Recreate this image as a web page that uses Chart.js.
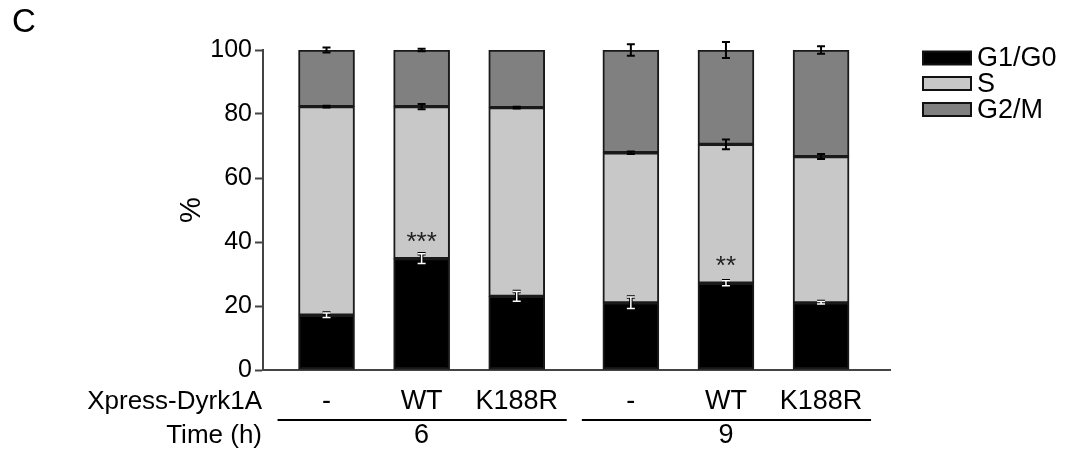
<!DOCTYPE html>
<html>
<head>
<meta charset="utf-8">
<script src="https://cdn.jsdelivr.net/npm/chart.js@4"></script>
<style>
  html, body { margin: 0; padding: 0; background: #fff; }
  #wrap { width: 1076px; height: 470px; position: relative; }
</style>
</head>
<body>
<div id="wrap"><canvas id="cycle-chart" width="1076" height="470"></canvas></div>
<script>
// --- Data ---
const constructs = ['-', 'WT', 'K188R', '-', 'WT', 'K188R'];
const timeGroups = ['6', '9'];
const phaseNames = ['G1/G0', 'S', 'G2/M'];

const g1Values = [17.1, 34.8, 23.0, 21.0, 27.1, 21.0];
const sValues  = [65.2, 47.5, 59.0, 46.9, 43.4, 45.7];
const g2Values = [17.7, 17.7, 18.0, 32.1, 29.5, 33.3];

const g1Err = [0.7, 1.5, 1.5, 1.8, 0.8, 0.4];
const sErr  = [0.3, 0.8, 0.3, 0.4, 1.5, 0.8];
const g2Err = [0.8, 0.4, 0.0, 1.8, 2.5, 1.2];

const significance = ['', '***', '', '', '**', ''];

const yTicks = [0, 20, 40, 60, 80, 100];

// --- Layout helpers ---
const FONT = "'Liberation Sans', Arial, sans-serif";
const groupSize = 3;

// bar slot = group * (groupSize + 0.2) + index + 1  (small extra gap between time groups)
const barX = constructs.map((_, i) => Math.floor(i / groupSize) * (groupSize + 0.2) + (i % groupSize) + 1);

const toPoints = vals => vals.map((v, i) => ({ x: barX[i], y: v }));

const colors = ['#000000', '#c8c8c8', '#808080'];

// error bars + asterisks + bottom labels + legend
const annotate = {
    id: 'annotate',
    afterDatasetsDraw(chart) {
        const { ctx, scales: { x, y } } = chart;
        const cap = 4;
        ctx.save();
        ctx.lineCap = 'butt';
        const bar = (px, top, err, white) => {
            if (!err) return;
            const y1 = y.getPixelForValue(top + err);
            const y2 = y.getPixelForValue(top - err);
            const path = () => {
                ctx.beginPath();
                ctx.moveTo(px, y1); ctx.lineTo(px, y2);
                ctx.moveTo(px - cap, y1); ctx.lineTo(px + cap, y1);
                ctx.moveTo(px - cap, y2); ctx.lineTo(px + cap, y2);
                ctx.stroke();
            };
            if (white) {
                ctx.strokeStyle = '#000'; ctx.lineWidth = 3.5; path();
                ctx.strokeStyle = '#fff'; ctx.lineWidth = 1.5; path();
            } else {
                ctx.strokeStyle = '#000'; ctx.lineWidth = 2; path();
            }
        };
        barX.forEach((bx, i) => {
            const px = x.getPixelForValue(bx);
            bar(px, g1Values[i], g1Err[i], true);
            bar(px, g1Values[i] + sValues[i], sErr[i], false);
            bar(px, g1Values[i] + sValues[i] + g2Values[i], g2Err[i], false);
            if (significance[i]) {
                ctx.fillStyle = '#222';
                ctx.font = '26px ' + FONT;
                ctx.textAlign = 'center';
                ctx.textBaseline = 'alphabetic';
                ctx.fillText(significance[i], px, y.getPixelForValue(g1Values[i]) - 9);
            }
        });
        ctx.restore();
    },
    afterDraw(chart) {
        const { ctx, scales: { x, y } } = chart;
        ctx.save();
        ctx.fillStyle = '#000';
        ctx.textBaseline = 'alphabetic';

        // panel letter
        ctx.font = '33px ' + FONT;
        ctx.textAlign = 'left';
        ctx.fillText('C', 12, 32);

        // row labels
        ctx.font = '26px ' + FONT;
        ctx.textAlign = 'right';
        ctx.fillText('Xpress-Dyrk1A', 262, 409);
        ctx.fillText('Time (h)', 262, 443);

        ctx.textAlign = 'center';
        ctx.font = '27px ' + FONT;
        barX.forEach((bx, i) => ctx.fillText(constructs[i], x.getPixelForValue(bx), 409));

        // group underlines and time labels
        ctx.strokeStyle = '#000';
        ctx.lineWidth = 2;
        timeGroups.forEach((t, g) => {
            const first = x.getPixelForValue(barX[g * groupSize]);
            const last = x.getPixelForValue(barX[g * groupSize + groupSize - 1]);
            const mid = x.getPixelForValue(barX[g * groupSize + 1]);
            ctx.beginPath();
            ctx.moveTo(first - 49, 420);
            ctx.lineTo(last + 50, 420);
            ctx.stroke();
            ctx.fillText(t, mid, 443);
        });

        // legend
        ctx.font = '27px ' + FONT;
        ctx.textAlign = 'left';
        ctx.textBaseline = 'middle';
        const rows = [58, 83.5, 109.5];
        phaseNames.forEach((name, k) => {
            const cy = rows[k];
            ctx.fillStyle = colors[k];
            ctx.fillRect(923, cy - 6.5, 48, 13);
            ctx.strokeStyle = '#111';
            ctx.lineWidth = 2;
            ctx.strokeRect(923, cy - 6.5, 48, 13);
            ctx.fillStyle = '#000';
            ctx.fillText(name, 977, cy + 1);
        });
        ctx.restore();
    }
};

const ctx = document.getElementById('cycle-chart').getContext('2d');
const datasets = [g1Values, sValues, g2Values].map((vals, k) => ({
    label: phaseNames[k],
    data: toPoints(vals),
    backgroundColor: colors[k],
    borderColor: '#1a1a1a',
    borderWidth: 2,
    borderSkipped: false,
    barThickness: 56,
}));

new Chart(ctx, {
    type: 'bar',
    data: { datasets },
    options: {
        responsive: false,
        animation: false,
        events: [],
        layout: { padding: { left: 175, right: 186, top: 50, bottom: 100 } },
        plugins: { legend: { display: false }, tooltip: { enabled: false } },
        scales: {
            x: {
                type: 'linear',
                stacked: true,
                offset: false,
                min: 0.332,
                max: 6.925,
                ticks: { display: false },
                grid: { display: false, offset: false },
                border: { display: true, color: '#444', width: 2 },
                afterFit: s => { s.height = 0; },
            },
            y: {
                stacked: true,
                min: 0,
                max: 100,
                afterBuildTicks: s => { s.ticks = yTicks.map(v => ({ value: v })); },
                ticks: { color: '#000', font: { family: FONT, size: 25 }, padding: 3 },
                grid: { drawOnChartArea: false, drawTicks: true, tickLength: 8, tickWidth: 2, tickColor: '#444' },
                border: { display: true, color: '#444', width: 2 },
                title: { display: true, text: '%', color: '#000', font: { family: FONT, size: 29 }, padding: 0 },
                afterFit: s => { s.width = 88; },
            },
        },
    },
    plugins: [annotate],
});
</script>
</body>
</html>
